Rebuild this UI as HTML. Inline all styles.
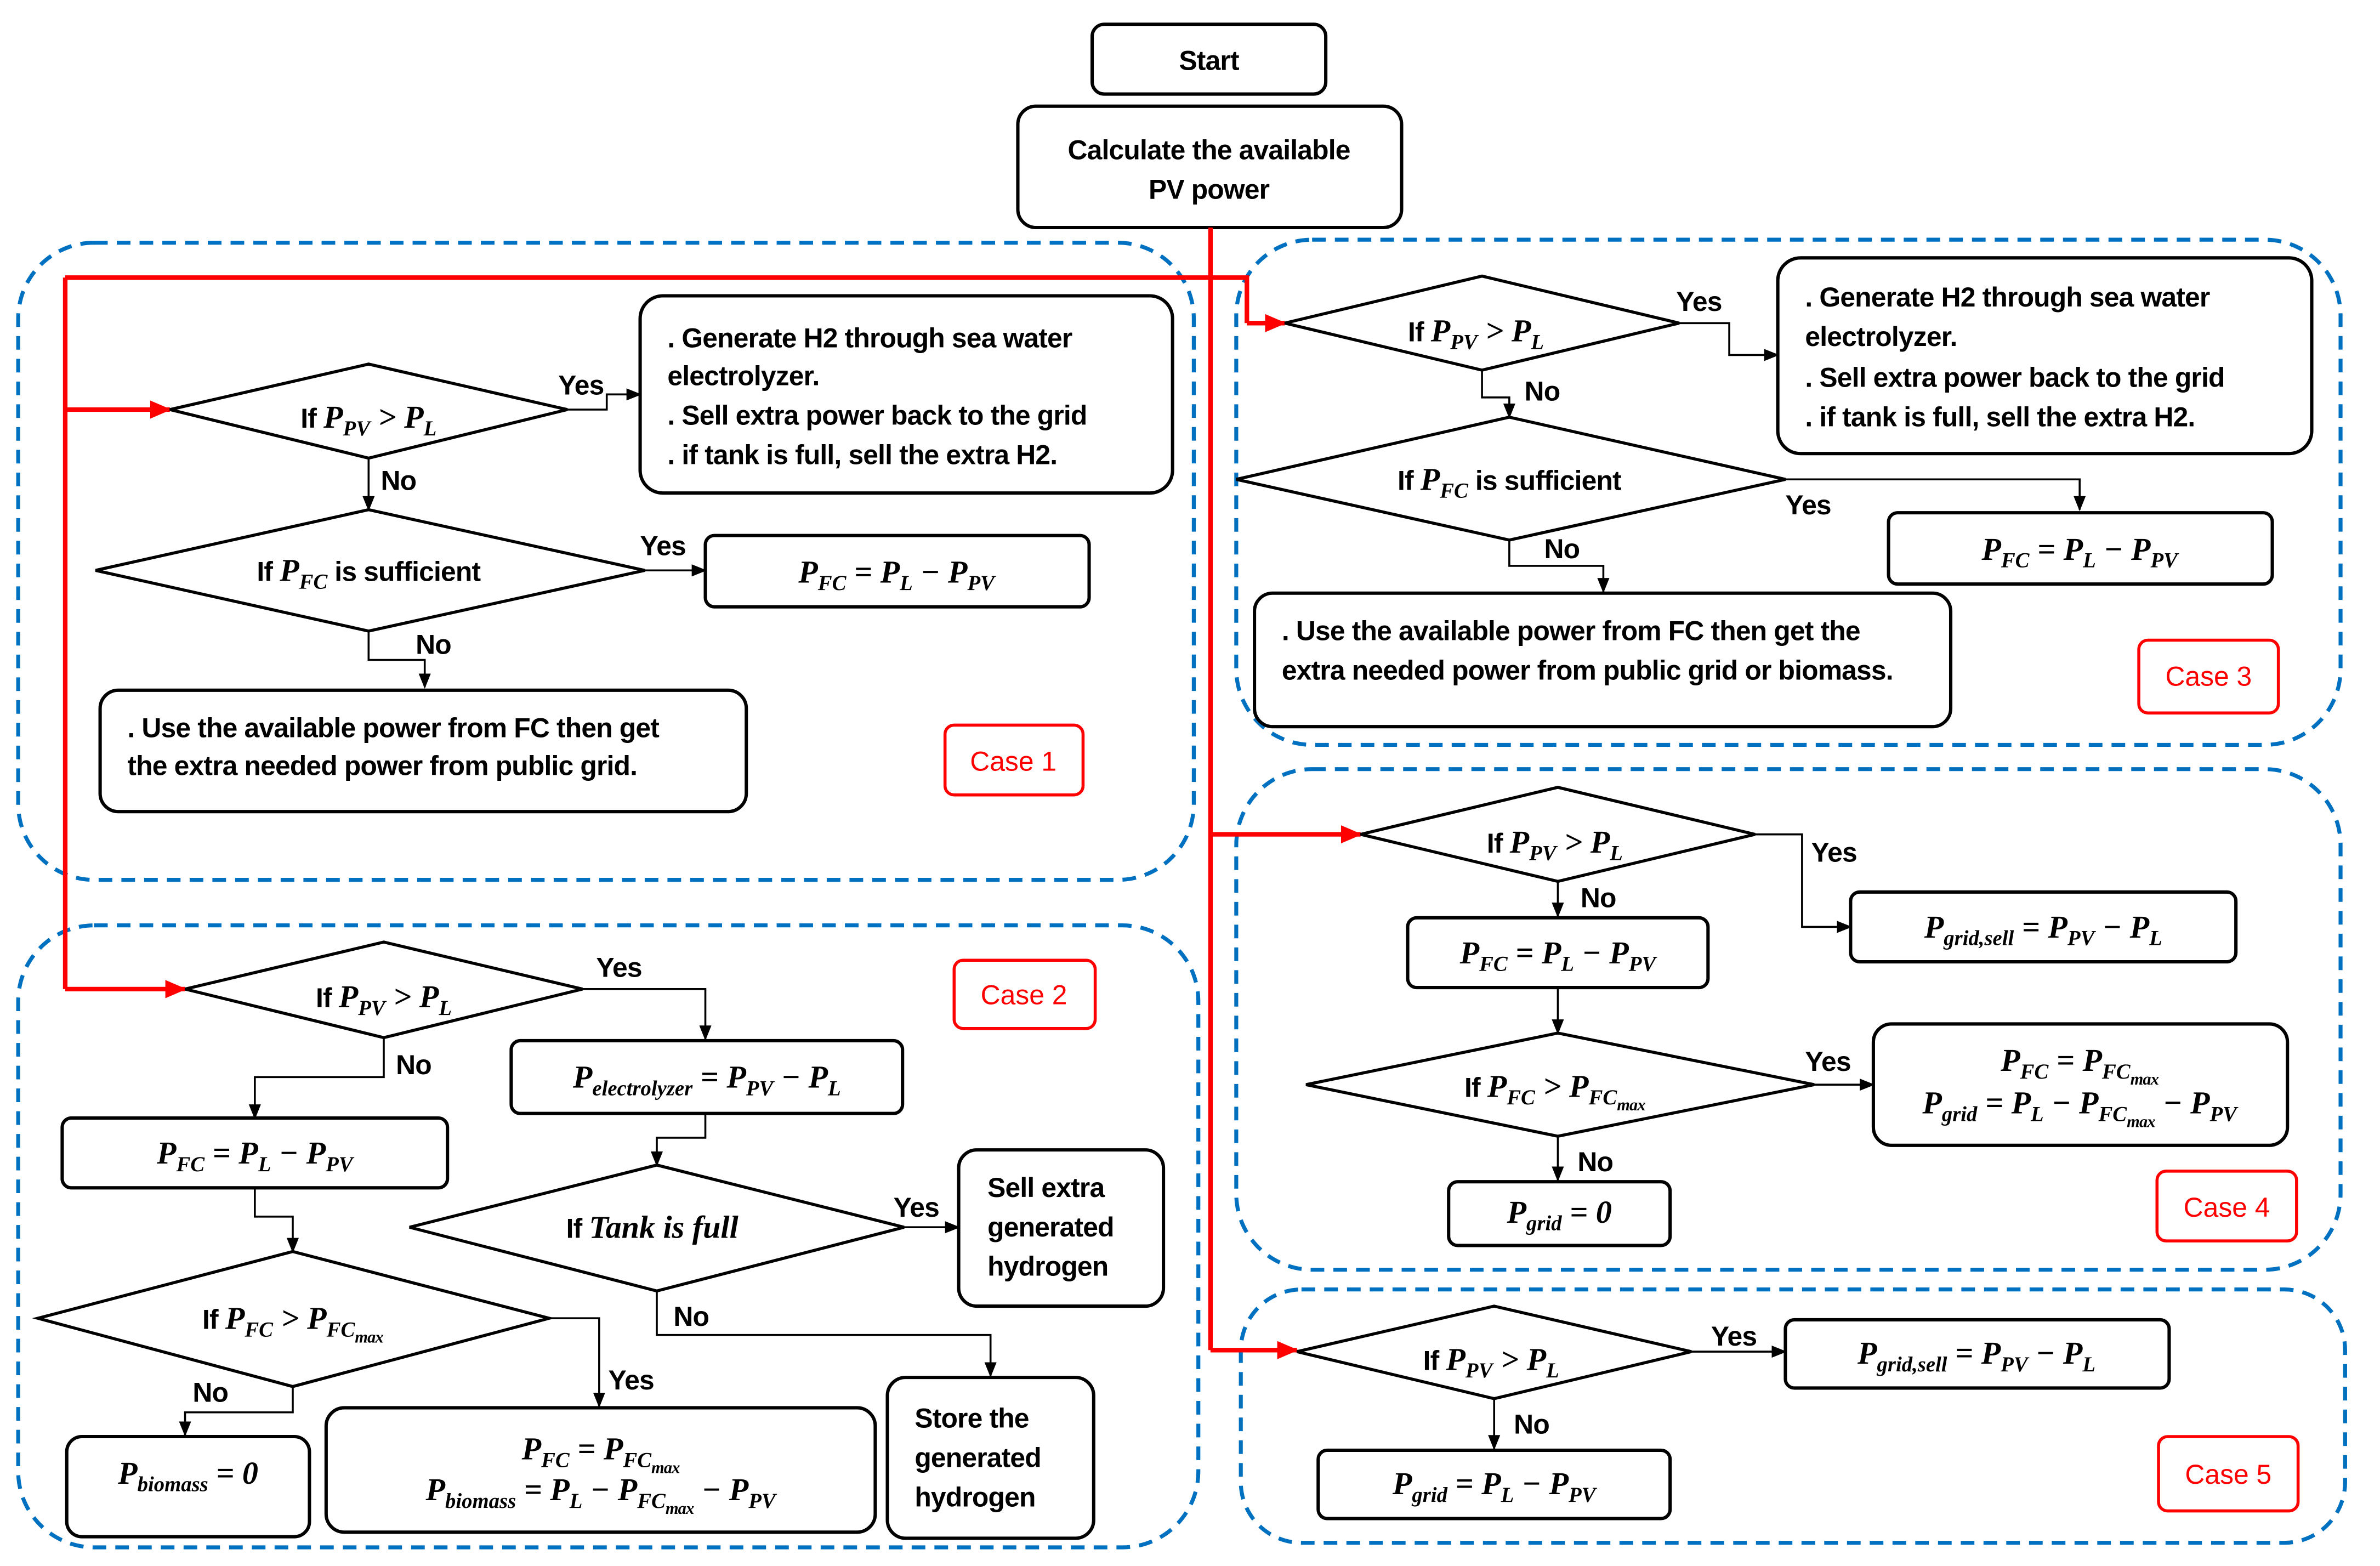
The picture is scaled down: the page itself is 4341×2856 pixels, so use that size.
<!DOCTYPE html>
<html><head><meta charset="utf-8"><style>
html,body{margin:0;padding:0;background:#fff}
svg{display:block}
.t{font-family:"Liberation Sans",sans-serif;font-weight:bold;font-size:18px;fill:#000;letter-spacing:-0.3px}
.m{font-family:"Liberation Serif",serif;font-style:italic;font-weight:bold;font-size:21px;letter-spacing:0}
.s{font-family:"Liberation Serif",serif;font-style:italic;font-weight:bold;font-size:14px;letter-spacing:0}
.ss{font-family:"Liberation Serif",serif;font-style:italic;font-weight:bold;font-size:11px}
.b{fill:#fff;stroke:#000;stroke-width:2.2}
.d{fill:#fff;stroke:#000;stroke-width:2}
.c{fill:none;stroke:#0070c0;stroke-width:2.6;stroke-dasharray:9 6}
.l{fill:none;stroke:#000;stroke-width:1.3}
.r{fill:none;stroke:#f00;stroke-width:3}
.rb{fill:#fff;stroke:#f00;stroke-width:2}
.rt{font-family:"Liberation Sans",sans-serif;font-size:18px;fill:#f00}
</style></head><body>
<svg width="4341" height="2856" viewBox="0 0 1569 1032.3" preserveAspectRatio="none" xmlns="http://www.w3.org/2000/svg">
<defs>
<marker id="a" markerWidth="10" markerHeight="10" refX="9" refY="5" orient="auto" markerUnits="userSpaceOnUse"><path d="M0,1 L10,5 L0,9 z" fill="#000"/></marker>
<marker id="ar" markerWidth="14" markerHeight="12" refX="13" refY="6" orient="auto" markerUnits="userSpaceOnUse"><path d="M0,0 L14,6 L0,12 z" fill="#f00"/></marker>
</defs>
<rect class="c" x="12" y="160" width="775" height="420" rx="50"/>
<rect class="c" x="12" y="610" width="778" height="410" rx="50"/>
<rect class="c" x="815" y="158" width="728" height="333" rx="50"/>
<rect class="c" x="815" y="507" width="728" height="330" rx="50"/>
<rect class="c" x="818" y="850" width="728" height="167" rx="40"/>

<rect class="b" x="720" y="16" width="154" height="46" rx="8"/>
<text class="t" x="797" y="46" text-anchor="middle">Start</text>
<rect class="b" x="671" y="70" width="253" height="80" rx="12"/>
<text class="t" x="797" y="105" text-anchor="middle">Calculate the available</text>
<text class="t" x="797" y="131" text-anchor="middle">PV power</text>

<path class="r" d="M798,150 V890"/>
<path class="r" d="M43,183 H822 V213" />
<path class="r" d="M822,213 H847" marker-end="url(#ar)"/>
<path class="r" d="M43,183 V652"/>
<path class="r" d="M43,270 H112" marker-end="url(#ar)"/>
<path class="r" d="M43,652 H122" marker-end="url(#ar)"/>
<path class="r" d="M798,550 H897" marker-end="url(#ar)"/>
<path class="r" d="M798,890 H855" marker-end="url(#ar)"/>

<!-- CASE 1 -->
<polygon class="d" points="112,270 243,240 374,270 243,302"/>
<text class="t" x="243" y="282" text-anchor="middle">If <tspan class="m">P</tspan><tspan class="s" dy="5">PV</tspan><tspan class="m" dy="-5"> &gt; P</tspan><tspan class="s" dy="5">L</tspan></text>
<path class="l" d="M374,270 H400 V260 H422" marker-end="url(#a)"/>
<text class="t" x="368" y="260">Yes</text>
<rect class="b" x="422" y="195" width="351" height="130" rx="15"/>
<text class="t" x="440" y="229">. Generate H2 through sea water</text>
<text class="t" x="440" y="254">electrolyzer.</text>
<text class="t" x="440" y="280">. Sell extra power back to the grid</text>
<text class="t" x="440" y="306">. if tank is full, sell the extra H2.</text>
<path class="l" d="M243,302 V336" marker-end="url(#a)"/>
<text class="t" x="251" y="323">No</text>
<polygon class="d" points="63,376 243,336 425,376 243,416"/>
<text class="t" x="243" y="383" text-anchor="middle">If <tspan class="m">P</tspan><tspan class="s" dy="5">FC</tspan><tspan dy="-5"> is sufficient</tspan></text>
<path class="l" d="M425,376 H465" marker-end="url(#a)"/>
<text class="t" x="422" y="366">Yes</text>
<rect class="b" x="465" y="353" width="253" height="47" rx="6"/>
<text class="t" x="591" y="384" text-anchor="middle"><tspan class="m">P</tspan><tspan class="s" dy="5">FC</tspan><tspan class="m" dy="-5"> = P</tspan><tspan class="s" dy="5">L</tspan><tspan class="m" dy="-5"> − P</tspan><tspan class="s" dy="5">PV</tspan></text>
<path class="l" d="M243,416 V435 H280 V453" marker-end="url(#a)"/>
<text class="t" x="274" y="431">No</text>
<rect class="b" x="66" y="455" width="426" height="80" rx="12"/>
<text class="t" x="84" y="486">. Use the available power from FC then get</text>
<text class="t" x="84" y="511">the extra needed power from public grid.</text>
<rect class="rb" x="623" y="478" width="91" height="46" rx="6"/>
<text class="rt" x="668" y="508" text-anchor="middle">Case 1</text>

<!-- CASE 2 -->
<polygon class="d" points="122,652 253,621 384,652 253,684"/>
<text class="t" x="253" y="664" text-anchor="middle">If <tspan class="m">P</tspan><tspan class="s" dy="5">PV</tspan><tspan class="m" dy="-5"> &gt; P</tspan><tspan class="s" dy="5">L</tspan></text>
<path class="l" d="M384,652 H465 V685" marker-end="url(#a)"/>
<text class="t" x="393" y="644">Yes</text>
<rect class="b" x="337" y="686" width="258" height="48" rx="6"/>
<text class="t" x="466" y="717" text-anchor="middle"><tspan class="m">P</tspan><tspan class="s" dy="5">electrolyzer</tspan><tspan class="m" dy="-5"> = P</tspan><tspan class="s" dy="5">PV</tspan><tspan class="m" dy="-5"> − P</tspan><tspan class="s" dy="5">L</tspan></text>
<path class="l" d="M253,684 V710 H168 V737" marker-end="url(#a)"/>
<text class="t" x="261" y="708">No</text>
<rect class="b" x="41" y="737" width="254" height="46" rx="6"/>
<text class="t" x="168" y="767" text-anchor="middle"><tspan class="m">P</tspan><tspan class="s" dy="5">FC</tspan><tspan class="m" dy="-5"> = P</tspan><tspan class="s" dy="5">L</tspan><tspan class="m" dy="-5"> − P</tspan><tspan class="s" dy="5">PV</tspan></text>
<path class="l" d="M168,783 V802 H193 V825" marker-end="url(#a)"/>
<polygon class="d" points="25,869 193,825 362,869 193,914"/>
<text class="t" x="193" y="876" text-anchor="middle">If <tspan class="m">P</tspan><tspan class="s" dy="5">FC</tspan><tspan class="m" dy="-5"> &gt; P</tspan><tspan class="s" dy="5">FC</tspan><tspan class="ss" dy="4">max</tspan></text>
<path class="l" d="M193,914 V931 H122 V946" marker-end="url(#a)"/>
<text class="t" x="127" y="924">No</text>
<rect class="b" x="44" y="947" width="160" height="66" rx="10"/>
<text class="t" x="124" y="978" text-anchor="middle"><tspan class="m">P</tspan><tspan class="s" dy="5">biomass</tspan><tspan class="m" dy="-5"> = 0</tspan></text>
<path class="l" d="M362,869 H395 V927" marker-end="url(#a)"/>
<text class="t" x="401" y="916">Yes</text>
<rect class="b" x="215" y="928" width="362" height="82" rx="12"/>
<text class="t" x="396" y="962" text-anchor="middle"><tspan class="m">P</tspan><tspan class="s" dy="5">FC</tspan><tspan class="m" dy="-5"> = P</tspan><tspan class="s" dy="5">FC</tspan><tspan class="ss" dy="4">max</tspan></text>
<text class="t" x="396" y="989" text-anchor="middle"><tspan class="m">P</tspan><tspan class="s" dy="5">biomass</tspan><tspan class="m" dy="-5"> = P</tspan><tspan class="s" dy="5">L</tspan><tspan class="m" dy="-5"> − P</tspan><tspan class="s" dy="5">FC</tspan><tspan class="ss" dy="4">max</tspan><tspan class="m" dy="-9"> − P</tspan><tspan class="s" dy="5">PV</tspan></text>
<path class="l" d="M465,734 V750 H433 V768" marker-end="url(#a)"/>
<polygon class="d" points="270,809 433,768 596,809 433,851"/>
<text class="t" x="430" y="816" text-anchor="middle">If <tspan class="m">Tank is full</tspan></text>
<path class="l" d="M596,809 H632" marker-end="url(#a)"/>
<text class="t" x="589" y="802">Yes</text>
<rect class="b" x="632" y="758" width="135" height="103" rx="12"/>
<text class="t" x="651" y="789">Sell extra</text>
<text class="t" x="651" y="815">generated</text>
<text class="t" x="651" y="841">hydrogen</text>
<path class="l" d="M433,851 V880 H653 V907" marker-end="url(#a)"/>
<text class="t" x="444" y="874">No</text>
<rect class="b" x="585" y="908" width="136" height="106" rx="12"/>
<text class="t" x="603" y="941">Store the</text>
<text class="t" x="603" y="967">generated</text>
<text class="t" x="603" y="993">hydrogen</text>
<rect class="rb" x="629" y="633" width="93" height="45" rx="6"/>
<text class="rt" x="675" y="662" text-anchor="middle">Case 2</text>

<!-- CASE 3 -->
<polygon class="d" points="847,213 977,182 1107,213 977,244"/>
<text class="t" x="973" y="225" text-anchor="middle">If <tspan class="m">P</tspan><tspan class="s" dy="5">PV</tspan><tspan class="m" dy="-5"> &gt; P</tspan><tspan class="s" dy="5">L</tspan></text>
<path class="l" d="M1107,213 H1140 V234 H1172" marker-end="url(#a)"/>
<text class="t" x="1105" y="205">Yes</text>
<rect class="b" x="1172" y="170" width="352" height="129" rx="15"/>
<text class="t" x="1190" y="202">. Generate H2 through sea water</text>
<text class="t" x="1190" y="228">electrolyzer.</text>
<text class="t" x="1190" y="255">. Sell extra power back to the grid</text>
<text class="t" x="1190" y="281">. if tank is full, sell the extra H2.</text>
<path class="l" d="M977,244 V262 H995 V275" marker-end="url(#a)"/>
<text class="t" x="1005" y="264">No</text>
<polygon class="d" points="815,316 995,275 1177,316 995,356"/>
<text class="t" x="995" y="323" text-anchor="middle">If <tspan class="m">P</tspan><tspan class="s" dy="5">FC</tspan><tspan dy="-5"> is sufficient</tspan></text>
<path class="l" d="M1177,316 H1371 V336" marker-end="url(#a)"/>
<text class="t" x="1177" y="339">Yes</text>
<rect class="b" x="1245" y="338" width="253" height="47" rx="6"/>
<text class="t" x="1371" y="369" text-anchor="middle"><tspan class="m">P</tspan><tspan class="s" dy="5">FC</tspan><tspan class="m" dy="-5"> = P</tspan><tspan class="s" dy="5">L</tspan><tspan class="m" dy="-5"> − P</tspan><tspan class="s" dy="5">PV</tspan></text>
<path class="l" d="M995,356 V373 H1057 V390" marker-end="url(#a)"/>
<text class="t" x="1018" y="368">No</text>
<rect class="b" x="827" y="391" width="459" height="88" rx="12"/>
<text class="t" x="845" y="422">. Use the available power from FC then get the</text>
<text class="t" x="845" y="448">extra needed power from public grid or biomass.</text>
<rect class="rb" x="1410" y="422" width="92" height="48" rx="6"/>
<text class="rt" x="1456" y="452" text-anchor="middle">Case 3</text>

<!-- CASE 4 -->
<polygon class="d" points="897,550 1027,519 1157,550 1027,581"/>
<text class="t" x="1025" y="562" text-anchor="middle">If <tspan class="m">P</tspan><tspan class="s" dy="5">PV</tspan><tspan class="m" dy="-5"> &gt; P</tspan><tspan class="s" dy="5">L</tspan></text>
<path class="l" d="M1157,550 H1188 V611 H1220" marker-end="url(#a)"/>
<text class="t" x="1194" y="568">Yes</text>
<rect class="b" x="1220" y="588" width="254" height="46" rx="6"/>
<text class="t" x="1347" y="618" text-anchor="middle"><tspan class="m">P</tspan><tspan class="s" dy="5">grid,sell</tspan><tspan class="m" dy="-5"> = P</tspan><tspan class="s" dy="5">PV</tspan><tspan class="m" dy="-5"> − P</tspan><tspan class="s" dy="5">L</tspan></text>
<path class="l" d="M1027,581 V604" marker-end="url(#a)"/>
<text class="t" x="1042" y="598">No</text>
<rect class="b" x="928" y="605" width="198" height="46" rx="6"/>
<text class="t" x="1027" y="635" text-anchor="middle"><tspan class="m">P</tspan><tspan class="s" dy="5">FC</tspan><tspan class="m" dy="-5"> = P</tspan><tspan class="s" dy="5">L</tspan><tspan class="m" dy="-5"> − P</tspan><tspan class="s" dy="5">PV</tspan></text>
<path class="l" d="M1027,651 V681" marker-end="url(#a)"/>
<polygon class="d" points="861,715 1027,681 1196,715 1027,749"/>
<text class="t" x="1025" y="723" text-anchor="middle">If <tspan class="m">P</tspan><tspan class="s" dy="5">FC</tspan><tspan class="m" dy="-5"> &gt; P</tspan><tspan class="s" dy="5">FC</tspan><tspan class="ss" dy="4">max</tspan></text>
<path class="l" d="M1196,715 H1235" marker-end="url(#a)"/>
<text class="t" x="1190" y="706">Yes</text>
<rect class="b" x="1235" y="675" width="273" height="80" rx="12"/>
<text class="t" x="1371" y="706" text-anchor="middle"><tspan class="m">P</tspan><tspan class="s" dy="5">FC</tspan><tspan class="m" dy="-5"> = P</tspan><tspan class="s" dy="5">FC</tspan><tspan class="ss" dy="4">max</tspan></text>
<text class="t" x="1371" y="734" text-anchor="middle"><tspan class="m">P</tspan><tspan class="s" dy="5">grid</tspan><tspan class="m" dy="-5"> = P</tspan><tspan class="s" dy="5">L</tspan><tspan class="m" dy="-5"> − P</tspan><tspan class="s" dy="5">FC</tspan><tspan class="ss" dy="4">max</tspan><tspan class="m" dy="-9"> − P</tspan><tspan class="s" dy="5">PV</tspan></text>
<path class="l" d="M1027,749 V778" marker-end="url(#a)"/>
<text class="t" x="1040" y="772">No</text>
<rect class="b" x="955" y="779" width="146" height="42" rx="6"/>
<text class="t" x="1028" y="806" text-anchor="middle"><tspan class="m">P</tspan><tspan class="s" dy="5">grid</tspan><tspan class="m" dy="-5"> = 0</tspan></text>
<rect class="rb" x="1422" y="772" width="92" height="46" rx="6"/>
<text class="rt" x="1468" y="802" text-anchor="middle">Case 4</text>

<!-- CASE 5 -->
<polygon class="d" points="855,891 985,861 1115,891 985,922"/>
<text class="t" x="983" y="903" text-anchor="middle">If <tspan class="m">P</tspan><tspan class="s" dy="5">PV</tspan><tspan class="m" dy="-5"> &gt; P</tspan><tspan class="s" dy="5">L</tspan></text>
<path class="l" d="M1115,891 H1177" marker-end="url(#a)"/>
<text class="t" x="1128" y="887">Yes</text>
<rect class="b" x="1177" y="870" width="253" height="45" rx="6"/>
<text class="t" x="1303" y="899" text-anchor="middle"><tspan class="m">P</tspan><tspan class="s" dy="5">grid,sell</tspan><tspan class="m" dy="-5"> = P</tspan><tspan class="s" dy="5">PV</tspan><tspan class="m" dy="-5"> − P</tspan><tspan class="s" dy="5">L</tspan></text>
<path class="l" d="M985,922 V955" marker-end="url(#a)"/>
<text class="t" x="998" y="945">No</text>
<rect class="b" x="869" y="956" width="232" height="45" rx="6"/>
<text class="t" x="985" y="985" text-anchor="middle"><tspan class="m">P</tspan><tspan class="s" dy="5">grid</tspan><tspan class="m" dy="-5"> = P</tspan><tspan class="s" dy="5">L</tspan><tspan class="m" dy="-5"> − P</tspan><tspan class="s" dy="5">PV</tspan></text>
<rect class="rb" x="1423" y="947" width="92" height="49" rx="6"/>
<text class="rt" x="1469" y="978" text-anchor="middle">Case 5</text>
</svg>
</body></html>
